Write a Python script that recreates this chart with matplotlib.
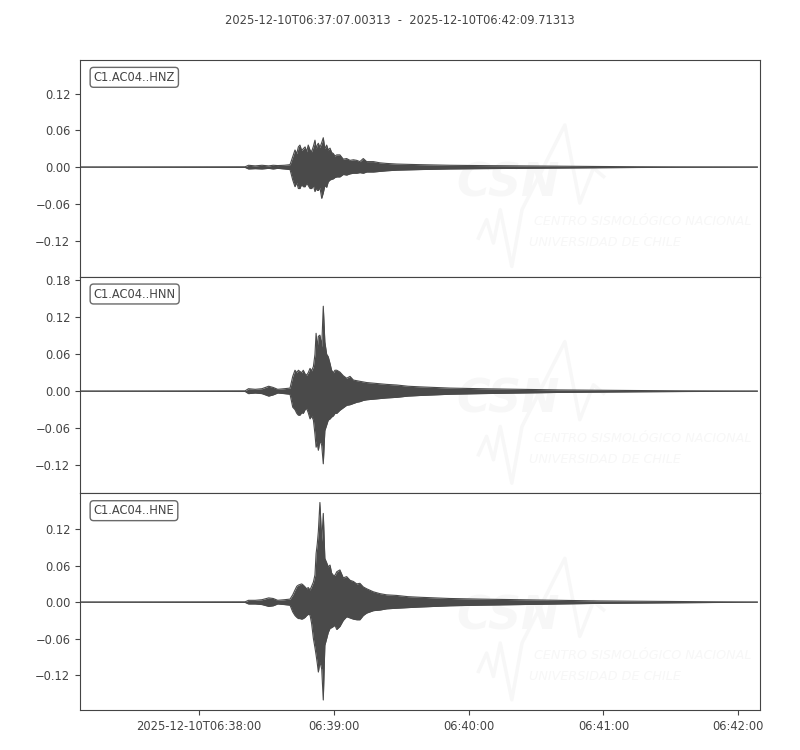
import numpy as np
import matplotlib
matplotlib.use("Agg")
import matplotlib.pyplot as plt
from matplotlib.ticker import MultipleLocator

# time grid, seconds after 2025-12-10T06:37:07.00313
t_s = [0, 73.5, 75, 78, 81, 84, 86, 88, 91, 93.5, 94.7, 95.7, 96.5, 97.2, 97.9,
       98.7, 99.4, 100.2, 100.9, 101.6, 102.4, 103.1, 103.9, 104.6, 105.1, 105.6,
       106.1, 106.8, 107.6, 108.3, 109.0, 109.8, 110.5, 111.3, 112.0, 112.8, 113.5,
       114.3, 115.7, 117.2, 118.7, 120.2, 121.7, 123.2, 124.6, 126.1, 127.6, 130.6,
       133.5, 136.5, 141.0, 146.0, 151.4, 158.0, 164.7, 178.1, 195.9, 213.7, 231.5,
       249.3, 267.1, 284.9, 301.5]

# envelope of each trace (max / min per time bin)
hnz_max = [0, 0.0005, 0.003, 0.002, 0.003, 0.002, 0.003, 0.0025, 0.003, 0.004,
           0.017, 0.028, 0.022, 0.033, 0.036, 0.027, 0.030, 0.033, 0.025, 0.036,
           0.028, 0.025, 0.034, 0.044, 0.030, 0.036, 0.039, 0.032, 0.040, 0.048,
           0.030, 0.036, 0.028, 0.031, 0.024, 0.022, 0.018, 0.020, 0.020, 0.013,
           0.014, 0.011, 0.012, 0.011, 0.009, 0.014, 0.009, 0.009, 0.007, 0.006,
           0.005, 0.0045, 0.004, 0.0035, 0.003, 0.0025, 0.002, 0.0015, 0.001,
           0.0006, 0.0003, 0.0002, 0]
hnz_min = [0, -0.0005, -0.003, -0.0025, -0.003, -0.002, -0.003, -0.002, -0.003, -0.004,
           -0.021, -0.032, -0.025, -0.035, -0.035, -0.028, -0.032, -0.032, -0.026, -0.030,
           -0.035, -0.035, -0.030, -0.040, -0.034, -0.038, -0.038, -0.033, -0.051, -0.042,
           -0.030, -0.033, -0.024, -0.021, -0.020, -0.019, -0.017, -0.016, -0.016, -0.012,
           -0.013, -0.011, -0.010, -0.010, -0.009, -0.010, -0.008, -0.008, -0.007, -0.006,
           -0.005, -0.0045, -0.004, -0.0035, -0.003, -0.0025, -0.002, -0.0015, -0.001,
           -0.0006, -0.0003, -0.0002, 0]

hnn_max = [0, 0.0005, 0.004, 0.003, 0.004, 0.008, 0.006, 0.003, 0.004, 0.005,
           0.024, 0.034, 0.030, 0.034, 0.032, 0.030, 0.034, 0.028, 0.026, 0.030,
           0.037, 0.033, 0.040, 0.060, 0.094, 0.070, 0.089, 0.091, 0.072, 0.138,
           0.080, 0.060, 0.056, 0.045, 0.034, 0.030, 0.034, 0.034, 0.031, 0.025,
           0.021, 0.024, 0.018, 0.017, 0.016, 0.015, 0.014, 0.013, 0.012, 0.011,
           0.010, 0.008, 0.007, 0.006, 0.005, 0.004, 0.003, 0.002, 0.0015,
           0.001, 0.0006, 0.0003, 0]
hnn_min = [0, -0.0005, -0.004, -0.003, -0.004, -0.008, -0.006, -0.003, -0.004, -0.005,
           -0.026, -0.030, -0.036, -0.039, -0.039, -0.035, -0.036, -0.030, -0.028, -0.035,
           -0.045, -0.040, -0.047, -0.070, -0.091, -0.085, -0.096, -0.080, -0.088, -0.118,
           -0.064, -0.055, -0.047, -0.045, -0.042, -0.040, -0.036, -0.036, -0.031, -0.027,
           -0.023, -0.022, -0.020, -0.018, -0.017, -0.015, -0.014, -0.013, -0.012, -0.011,
           -0.010, -0.008, -0.007, -0.006, -0.005, -0.004, -0.003, -0.002, -0.0015,
           -0.001, -0.0006, -0.0003, 0]

hne_max = [0, 0.0005, 0.003, 0.003, 0.004, 0.007, 0.006, 0.003, 0.004, 0.005,
           0.012, 0.020, 0.026, 0.028, 0.029, 0.030, 0.028, 0.025, 0.022, 0.024,
           0.020, 0.026, 0.033, 0.045, 0.080, 0.095, 0.116, 0.164, 0.100, 0.146,
           0.072, 0.065, 0.058, 0.061, 0.048, 0.044, 0.044, 0.050, 0.053, 0.040,
           0.042, 0.036, 0.034, 0.030, 0.031, 0.025, 0.022, 0.017, 0.014, 0.012,
           0.011, 0.009, 0.008, 0.007, 0.006, 0.005, 0.004, 0.003, 0.002,
           0.0015, 0.001, 0.0005, 0]
hne_min = [0, -0.0005, -0.003, -0.003, -0.004, -0.007, -0.006, -0.003, -0.004, -0.005,
           -0.016, -0.022, -0.025, -0.027, -0.027, -0.028, -0.027, -0.025, -0.022, -0.020,
           -0.021, -0.035, -0.060, -0.075, -0.087, -0.100, -0.115, -0.098, -0.110, -0.161,
           -0.071, -0.060, -0.050, -0.043, -0.042, -0.040, -0.038, -0.045, -0.040, -0.030,
           -0.024, -0.026, -0.028, -0.029, -0.029, -0.022, -0.018, -0.014, -0.013, -0.011,
           -0.010, -0.009, -0.008, -0.007, -0.006, -0.005, -0.004, -0.003, -0.002,
           -0.0015, -0.001, -0.0005, 0]

channels = ["C1.AC04..HNZ", "C1.AC04..HNN", "C1.AC04..HNE"]
ylims = [(-0.1790, 0.175), (-0.166, 0.186), (-0.1775, 0.179)]

start_str = "2025-12-10T06:37:07.00313"
end_str = "2025-12-10T06:42:09.71313"
start_sec = 6 * 3600 + 37 * 60 + 7.00313
end_sec = 6 * 3600 + 42 * 60 + 9.71313
tick_times = ["06:38:00", "06:39:00", "06:40:00", "06:41:00", "06:42:00"]
tick_labels = ["2025-12-10T06:38:00", "06:39:00", "06:40:00", "06:41:00", "06:42:00"]

gray = "#444444"
wave = "#4a4a4a"
mark = "#f7f7f7"
fs = 8.3

def to_sec(hms):
    h, m, s = hms.split(":")
    return int(h) * 3600 + int(m) * 60 + float(s) - start_sec

fig = plt.figure(figsize=(8, 7.5), dpi=100)
fig.text(0.5, 0.973, start_str + "  -  " + end_str, ha="center", va="center",
         fontsize=fs, color=gray)

left, width = 0.1, 0.85
top, bottom = 0.92, 0.0533
h = (top - bottom) / 3
traces = [(hnz_max, hnz_min), (hnn_max, hnn_min), (hne_max, hne_min)]

for i, (hi, lo) in enumerate(traces):
    ax = fig.add_axes([left, top - (i + 1) * h, width, h])

    # faint logo watermark
    ax.text(0.553, 0.43, "CSN", transform=ax.transAxes, fontsize=33, fontweight="bold",
            style="italic", color=mark, ha="left", va="center", zorder=0)
    ax.text(0.667, 0.253, "CENTRO SISMOLÓGICO NACIONAL", transform=ax.transAxes,
            fontsize=9.2, style="italic", color=mark, ha="left", va="center", zorder=0)
    ax.text(0.661, 0.157, "UNIVERSIDAD DE CHILE", transform=ax.transAxes,
            fontsize=9.2, style="italic", color=mark, ha="left", va="center", zorder=0)
    ax.plot([0.586, 0.598, 0.608, 0.618, 0.635, 0.650, 0.713, 0.735, 0.755, 0.770],
            [0.178, 0.263, 0.155, 0.309, 0.047, 0.309, 0.700, 0.340, 0.501, 0.462],
            transform=ax.transAxes, color=mark, lw=2.5, zorder=0)

    ax.fill_between(t_s, lo, hi, color=wave, lw=0, zorder=2)
    ax.plot(t_s, hi, color=wave, lw=0.8, zorder=2)
    ax.plot(t_s, lo, color=wave, lw=0.8, zorder=2)

    ax.set_xlim(0, end_sec - start_sec)
    ax.set_ylim(*ylims[i])
    ax.yaxis.set_major_locator(MultipleLocator(0.06))
    ax.tick_params(labelsize=fs, colors=gray, length=3.5)
    for sp in ax.spines.values():
        sp.set_color(gray)

    ax.set_xticks([to_sec(s) for s in tick_times])
    if i == 2:
        ax.set_xticklabels(tick_labels)
    else:
        ax.set_xticklabels([])
        ax.tick_params(axis="x", length=0)

    ax.text(0.02, 0.95, channels[i], transform=ax.transAxes, ha="left", va="top",
            fontsize=fs, color=gray,
            bbox=dict(boxstyle="round,pad=0.3", fc="w", ec=gray, alpha=0.8))

fig.savefig("out.png", dpi=100)
